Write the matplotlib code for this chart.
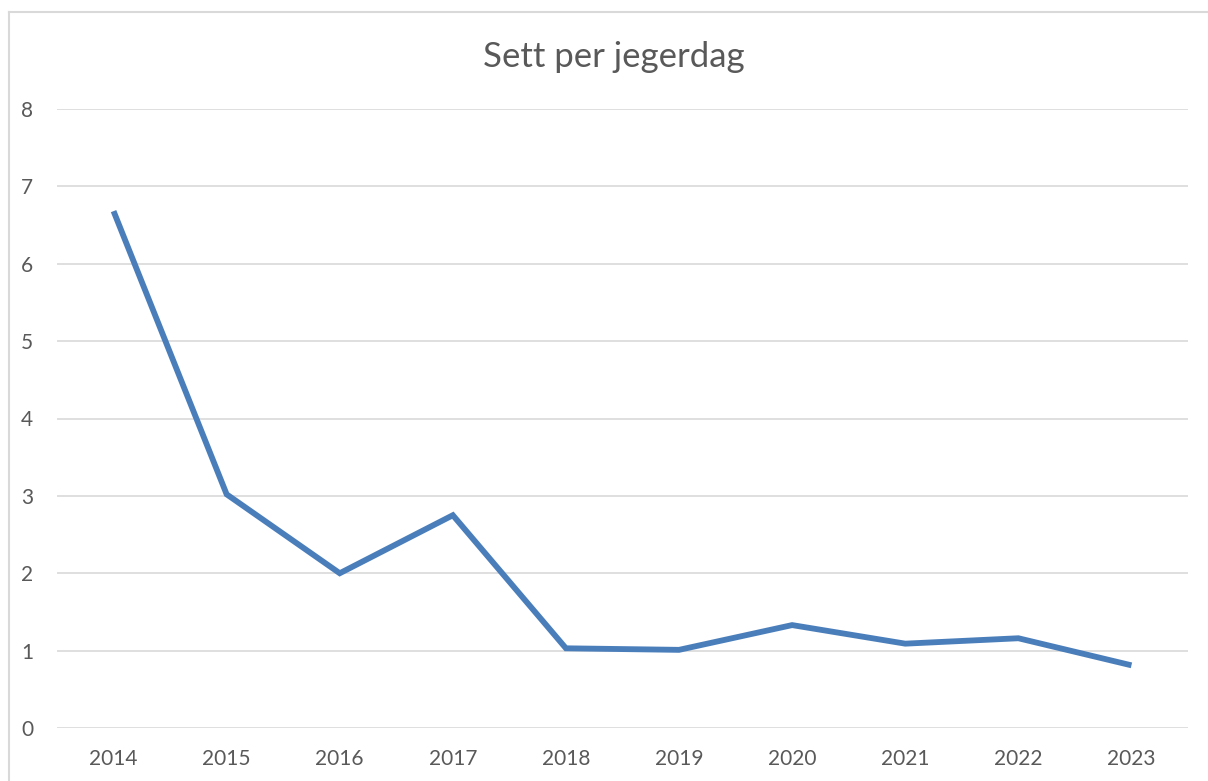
import matplotlib
matplotlib.use("Agg")
import matplotlib.pyplot as plt
from matplotlib.lines import Line2D

years = ["2014", "2015", "2016", "2017", "2018", "2019", "2020", "2021", "2022", "2023"]
sett = [6.68, 3.02, 2.00, 2.75, 1.03, 1.01, 1.33, 1.09, 1.16, 0.81]
yticks = [0, 1, 2, 3, 4, 5, 6, 7, 8]

plt.rcParams['font.family'] = ['Lato', 'DejaVu Sans']
txt = '#595959'

fig = plt.figure(figsize=(12.08, 7.81), dpi=100)
ax = fig.add_axes([57/1208, 1-728/781, (1188-57)/1208, (728-109)/781])

# chart border, only top and left show in the picture
bx, by = 9/1208, 1-12/781
fig.lines.append(Line2D([bx, 1.01], [by, by], transform=fig.transFigure, color='#d9d9d9', linewidth=1.5))
fig.lines.append(Line2D([bx, bx], [-0.01, by], transform=fig.transFigure, color='#d9d9d9', linewidth=1.5))

x = list(range(len(years)))
ax.plot(x, sett, color='#4a7ebb', linewidth=4.2, solid_joinstyle='miter', solid_capstyle='butt', zorder=3)

ax.set_xlim(-0.5, len(years) - 0.5)
ax.set_ylim(0, 8)
ax.set_yticks(yticks)
ax.set_xticks(x)
ax.set_xticklabels(years)
ax.grid(axis='y', color='#d9d9d9', linewidth=1.2)
ax.set_axisbelow(True)
for s in ax.spines.values():
    s.set_visible(False)
ax.tick_params(length=0, labelsize=15, colors=txt)
ax.tick_params(axis='y', pad=17)
ax.tick_params(axis='x', pad=15)

fig.text(614/1208, 1-57/781, 'Sett per jegerdag', ha='center', va='center', fontsize=25, color=txt)

fig.savefig('out.png', dpi=100)
